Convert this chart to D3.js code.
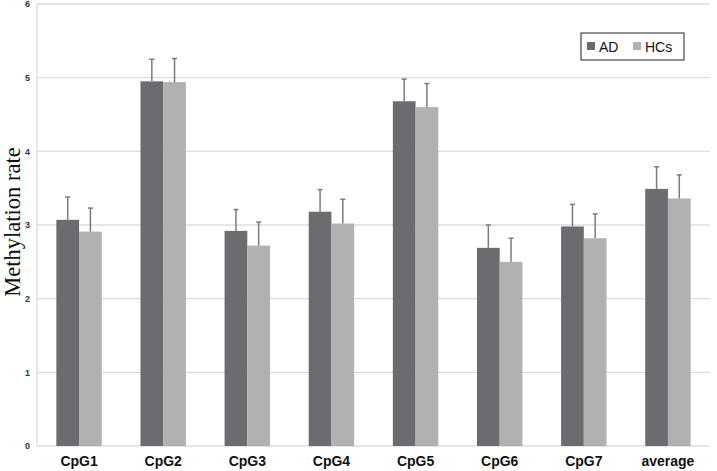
<!DOCTYPE html>
<html><head><meta charset="utf-8">
<script src="https://cdn.jsdelivr.net/npm/d3@7/dist/d3.min.js"></script>
<style>body{margin:0;background:#fff}svg{display:block}</style>
</head><body>
<svg id="c" width="717" height="471"></svg>
<script>
const categories = ["CpG1","CpG2","CpG3","CpG4","CpG5","CpG6","CpG7","average"];
const seriesNames = ["AD","HCs"];
const adValues = [3.07,4.95,2.92,3.18,4.68,2.69,2.98,3.49];
const hcValues = [2.91,4.94,2.72,3.02,4.60,2.50,2.82,3.36];
const adErrors = [0.31,0.30,0.29,0.30,0.30,0.31,0.30,0.30];
const hcErrors = [0.32,0.32,0.32,0.33,0.32,0.32,0.33,0.32];
const yTicks = [0,1,2,3,4,5,6];
const colors = ["#6b6c70","#b0b1b3"];

const svg = d3.select("#c");
const L = 37, R = 710, T = 4, B = 446;
const x = d3.scaleBand().domain(categories).range([L, R]).paddingInner(0.46).paddingOuter(0.23);
const xs = d3.scaleBand().domain(seriesNames).range([0, x.bandwidth()]);
const y = d3.scaleLinear().domain([0,6]).range([B, T]);

// gridlines
svg.append("g").selectAll("line").data(yTicks).join("line")
  .attr("x1", L).attr("x2", R).attr("y1", d=>y(d)).attr("y2", d=>y(d))
  .attr("stroke", "#dcdcdc").attr("stroke-width", 1.3);
svg.append("line").attr("x1", L).attr("x2", L).attr("y1", T).attr("y2", B)
  .attr("stroke", "#dcdcdc").attr("stroke-width", 1.3);

// y tick labels
const yAxis = d3.axisLeft(y).tickValues(yTicks).tickFormat(d3.format("d")).tickSize(0).tickPadding(0);
const ya = svg.append("g").attr("transform", `translate(${L-7},0)`).call(yAxis);
ya.select(".domain").remove();
ya.selectAll("text").attr("font-family","Liberation Sans, Arial, sans-serif")
  .attr("font-size", 9).attr("font-weight","bold").attr("fill","#333");

// x labels
const xAxis = d3.axisBottom(x).tickSize(0).tickPadding(0);
const xa = svg.append("g").attr("transform", `translate(0,${B+10})`).call(xAxis);
xa.select(".domain").remove();
xa.selectAll("text").attr("font-family","Liberation Sans, Arial, sans-serif")
  .attr("font-size", 14).attr("font-weight","bold").attr("fill","#111");

const data = categories.map((c,i)=>({c, vals:[
  {s:"AD", v:adValues[i], e:adErrors[i]},
  {s:"HCs", v:hcValues[i], e:hcErrors[i]}]}));

const g = svg.append("g").selectAll("g").data(data).join("g")
  .attr("transform", d=>`translate(${x(d.c)},0)`);
g.selectAll("rect").data(d=>d.vals).join("rect")
  .attr("x", d=>xs(d.s)).attr("width", xs.bandwidth())
  .attr("y", d=>y(d.v)).attr("height", d=>B - y(d.v))
  .attr("fill", (d,i)=>colors[i]);
// error bars
g.selectAll("line.err").data(d=>d.vals).join("line").attr("class","err")
  .attr("x1", d=>xs(d.s)+xs.bandwidth()/2).attr("x2", d=>xs(d.s)+xs.bandwidth()/2)
  .attr("y1", d=>y(d.v)).attr("y2", d=>y(d.v+d.e))
  .attr("stroke", "#7a7b7e").attr("stroke-width", 1.5);
g.selectAll("line.cap").data(d=>d.vals).join("line").attr("class","cap")
  .attr("x1", d=>xs(d.s)+xs.bandwidth()/2-2.5).attr("x2", d=>xs(d.s)+xs.bandwidth()/2+2.5)
  .attr("y1", d=>y(d.v+d.e)).attr("y2", d=>y(d.v+d.e))
  .attr("stroke", "#7a7b7e").attr("stroke-width", 1.5);

// y title
svg.append("text").attr("transform","translate(20,222) rotate(-90)")
  .attr("text-anchor","middle").attr("font-family","Liberation Serif, Times New Roman, serif")
  .attr("font-size", 22.5).attr("fill","#111").text("Methylation rate");

// legend
const lg = svg.append("g").attr("transform","translate(581,33)");
lg.append("rect").attr("width",103).attr("height",27).attr("fill","#fff")
  .attr("stroke","#222").attr("stroke-width",1);
const items = [{n:"AD",x:6},{n:"HCs",x:52}];
items.forEach((it,i)=>{
  lg.append("rect").attr("x",it.x).attr("y",9).attr("width",8).attr("height",8).attr("fill",colors[i]);
  lg.append("text").attr("x",it.x+12).attr("y",19).attr("font-family","Liberation Sans, Arial, sans-serif")
    .attr("font-size",14).attr("fill","#111").text(it.n);
});
</script>
</body></html>
